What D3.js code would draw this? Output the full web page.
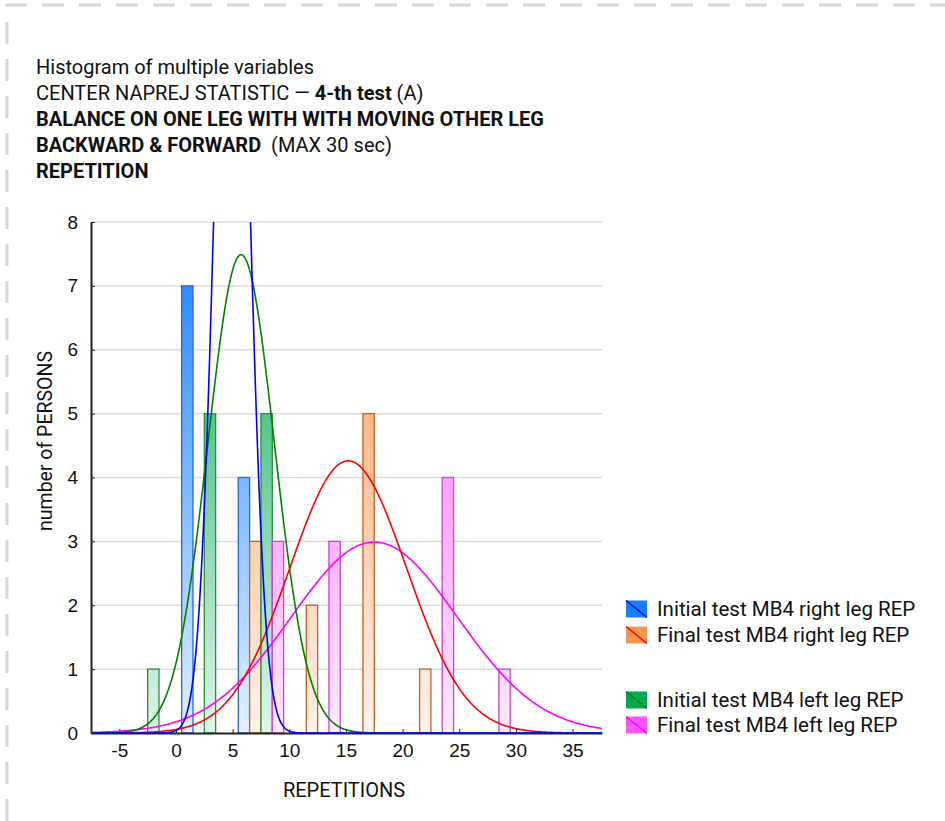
<!DOCTYPE html>
<html>
<head>
<meta charset="utf-8">
<script src="https://d3js.org/d3.v7.min.js"></script>
<style>
  html, body { margin: 0; padding: 0; background: #fff; }
  svg { display: block; font-family: Roboto, "Noto Sans", sans-serif; }
</style>
</head>
<body>
<svg id="chart"></svg>
<script>
// series order: right initial, right final, left initial, left final
var seriesNames = ["Initial test MB4 right leg REP", "Final test MB4 right leg REP",
                   "Initial test MB4 left leg REP", "Final test MB4 left leg REP"];
var rightInitialX = [1, 6],          rightInitialN = [7, 4];
var rightFinalX   = [7, 12, 17, 22], rightFinalN   = [3, 2, 5, 1];
var leftInitialX  = [-2, 3, 8],      leftInitialN  = [1, 5, 5];
var leftFinalX    = [9, 14, 24, 29], leftFinalN    = [3, 3, 4, 1];
// normal fit
var fitMean = [4.95, 15.2, 5.75, 17.5];
var fitSd   = [1.43, 5.15, 2.93, 7.34];
var personsN = 11, binWidth = 5;
var xTicks = [-5, 0, 5, 10, 15, 20, 25, 30, 35];
var yTicks = [0, 1, 2, 3, 4, 5, 6, 7, 8];

var fillCol   = ["#1580ff", "#f79650", "#00a850", "#ff55ff"];
var strokeCol = ["#2a66d6", "#c4621c", "#2e8a3c", "#c844c8"];
var curveCol  = ["#0000ff", "#ff0000", "#008000", "#ff00ff"];

var width = 945, height = 821;
var svg = d3.select("#chart").attr("width", width).attr("height", height);

var margin = {left: 91, right: 602, top: 222, bottom: 733};
var x = d3.scaleLinear().domain([-7.5, 37.6]).range([margin.left, margin.right]);
var y = d3.scaleLinear().domain([0, 8]).range([margin.bottom, margin.top]);

// dashed frame (only top and left edges are on the canvas)
svg.append("path")
    .attr("d", "M7," + height + "V5H" + width)
    .attr("fill", "none")
    .attr("stroke", "#d6d6d6")
    .attr("stroke-width", 3)
    .attr("stroke-dasharray", "22,15");

// title
var title = svg.append("g").attr("font-size", 20).attr("fill", "#111");
title.append("text").attr("x", 36).attr("y", 74).text("Histogram of multiple variables");
var t2 = title.append("text").attr("x", 36).attr("y", 100);
t2.append("tspan").text("CENTER NAPREJ STATISTIC — ");
t2.append("tspan").attr("font-weight", "bold").text("4-th test");
t2.append("tspan").text(" (A)");
title.append("text").attr("x", 36).attr("y", 126).attr("font-weight", "bold")
    .text("BALANCE ON ONE LEG WITH WITH MOVING OTHER LEG");
var t4 = title.append("text").attr("x", 36).attr("y", 152);
t4.append("tspan").attr("font-weight", "bold").text("BACKWARD & FORWARD");
t4.append("tspan").attr("xml:space", "preserve").text("  (MAX 30 sec)");
title.append("text").attr("x", 36).attr("y", 178).attr("font-weight", "bold").text("REPETITION");

// gradients: full colour at the top of the plot, fading toward the base
var defs = svg.append("defs");
fillCol.forEach(function (c, i) {
    var g = defs.append("linearGradient")
        .attr("id", "grad" + i)
        .attr("gradientUnits", "userSpaceOnUse")
        .attr("x1", 0).attr("x2", 0)
        .attr("y1", y(8)).attr("y2", y(0));
    g.append("stop").attr("offset", 0).attr("stop-color", c);
    g.append("stop").attr("offset", 1).attr("stop-color", d3.interpolateRgb(c, "#fff")(0.88));
});
defs.append("clipPath").attr("id", "plotclip")
    .append("rect")
    .attr("x", margin.left).attr("y", margin.top)
    .attr("width", margin.right - margin.left).attr("height", margin.bottom - margin.top);

// gridlines
svg.append("g").selectAll("line")
    .data(yTicks.filter(function (d) { return d > 0; }))
    .enter().append("line")
    .attr("x1", margin.left).attr("x2", margin.right)
    .attr("y1", function (d) { return y(d); })
    .attr("y2", function (d) { return y(d); })
    .attr("stroke", "#dcdcdc")
    .attr("stroke-width", 1.5);

// bars
var barSets = [
    {xs: rightInitialX, ns: rightInitialN},
    {xs: rightFinalX, ns: rightFinalN},
    {xs: leftInitialX, ns: leftInitialN},
    {xs: leftFinalX, ns: leftFinalN}
];
barSets.forEach(function (s, i) {
    svg.append("g").selectAll("rect")
        .data(s.xs.map(function (v, k) { return {x: v, n: s.ns[k]}; }))
        .enter().append("rect")
        .attr("x", function (d) { return x(d.x - 0.5); })
        .attr("width", function (d) { return x(d.x + 0.5) - x(d.x - 0.5); })
        .attr("y", function (d) { return y(d.n); })
        .attr("height", function (d) { return y(0) - y(d.n); })
        .attr("fill", "url(#grad" + i + ")")
        .attr("stroke", strokeCol[i])
        .attr("stroke-width", 1.3);
});

// axes
var xAxis = svg.append("g")
    .attr("transform", "translate(0," + margin.bottom + ")")
    .call(d3.axisBottom(x).tickValues(xTicks).tickFormat(String)
        .tickSizeInner(-4).tickSizeOuter(0).tickPadding(11));
var yAxis = svg.append("g")
    .attr("transform", "translate(" + margin.left + ",0)")
    .call(d3.axisLeft(y).tickValues(yTicks).tickFormat(String)
        .tickSizeInner(-4).tickSizeOuter(0).tickPadding(13));
[xAxis, yAxis].forEach(function (a) {
    a.selectAll("text").attr("font-size", 19).attr("fill", "#111").attr("font-family", null);
    a.selectAll("line").attr("stroke", "#222");
    a.select(".domain").attr("stroke", "#222").attr("stroke-width", 2);
});

// fitted normal curves, scaled to counts
var curveXs = d3.range(-7.5, 37.65, 0.05);
var line = d3.line()
    .x(function (d) { return x(d[0]); })
    .y(function (d) { return y(d[1]); });
[3, 1, 2, 0].forEach(function (i) {
    var pts = curveXs.map(function (v) {
        var z = (v - fitMean[i]) / fitSd[i];
        return [v, personsN * binWidth * Math.exp(-0.5 * z * z) / (fitSd[i] * Math.sqrt(2 * Math.PI))];
    });
    svg.append("path")
        .datum(pts)
        .attr("clip-path", "url(#plotclip)")
        .attr("d", line)
        .attr("fill", "none")
        .attr("stroke", curveCol[i])
        .attr("stroke-width", 1.6);
});

// axis titles
svg.append("text")
    .attr("x", 344).attr("y", 797)
    .attr("text-anchor", "middle")
    .attr("font-size", 20).attr("fill", "#111")
    .text("REPETITIONS");
svg.append("text")
    .attr("transform", "translate(52,441) rotate(-90)")
    .attr("text-anchor", "middle")
    .attr("font-size", 19.5).attr("fill", "#111")
    .text("number of PERSONS");

// legend
var legendY = [609, 635, 700, 725];
var legend = svg.append("g").selectAll("g")
    .data(seriesNames)
    .enter().append("g")
    .attr("transform", function (d, i) { return "translate(626," + legendY[i] + ")"; });
legend.append("rect")
    .attr("x", 0).attr("y", -8.5).attr("width", 21).attr("height", 17)
    .attr("fill", function (d, i) { return fillCol[i]; });
legend.append("line")
    .attr("x1", 0).attr("y1", -8.5).attr("x2", 21).attr("y2", 8.5)
    .attr("stroke", function (d, i) { return curveCol[i]; })
    .attr("stroke-width", 1.5);
legend.append("text")
    .attr("x", 31).attr("y", 7)
    .attr("font-size", 20.5).attr("fill", "#111")
    .text(function (d) { return d; });
</script>
</body>
</html>
